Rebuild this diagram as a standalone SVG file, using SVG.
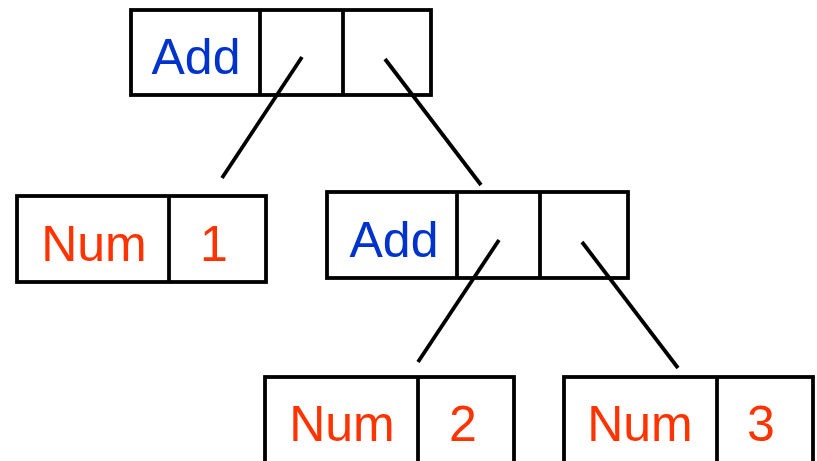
<svg xmlns="http://www.w3.org/2000/svg" width="817" height="461" viewBox="0 0 817 461">
  <style>
    .box { fill: #ffffff; stroke: #000000; stroke-width: 3.8; }
    .div { stroke: #000000; stroke-width: 3.8; }
    .edge { stroke: #000000; stroke-width: 3.8; fill: none; }
    .lbl { font-family: "Liberation Sans", Arial, sans-serif; font-size: 50px; text-anchor: middle; }
    .ctor { fill: #0033cc; }
    .num { fill: #ff3300; }
  </style>
  <rect width="817" height="461" fill="#ffffff"/>

  <!-- root: Add with two child slots -->
  <g id="add-root">
    <rect class="box" x="131" y="10" width="300" height="85"/>
    <line class="div" x1="260" y1="10" x2="260" y2="95"/>
    <line class="div" x1="343" y1="10" x2="343" y2="95"/>
    <text class="lbl ctor" x="196" y="74">Add</text>
  </g>

  <g id="num-1">
    <rect class="box" x="17" y="196" width="249" height="86"/>
    <line class="div" x1="169" y1="196" x2="169" y2="282"/>
    <text class="lbl num" x="94" y="261">Num</text>
    <text class="lbl num" x="214" y="261">1</text>
  </g>

  <g id="add-inner">
    <rect class="box" x="327" y="192" width="301" height="86"/>
    <line class="div" x1="457" y1="192" x2="457" y2="278"/>
    <line class="div" x1="540" y1="192" x2="540" y2="278"/>
    <text class="lbl ctor" x="394" y="257">Add</text>
  </g>

  <g id="num-2">
    <rect class="box" x="265" y="377" width="249" height="87"/>
    <line class="div" x1="418" y1="377" x2="418" y2="464"/>
    <text class="lbl num" x="342" y="441">Num</text>
    <text class="lbl num" x="463" y="441">2</text>
  </g>

  <g id="num-3">
    <rect class="box" x="564" y="377" width="249" height="87"/>
    <line class="div" x1="717" y1="377" x2="717" y2="464"/>
    <text class="lbl num" x="640" y="441">Num</text>
    <text class="lbl num" x="761" y="441">3</text>
  </g>

  <!-- pointers from the child slots, drawn over the cells -->
  <g id="connectors">
    <line class="edge" x1="302" y1="57" x2="222" y2="178"/>
    <line class="edge" x1="385" y1="59" x2="481" y2="185"/>
    <line class="edge" x1="499" y1="240" x2="418" y2="362"/>
    <line class="edge" x1="582" y1="242" x2="678" y2="368"/>
  </g>
</svg>
